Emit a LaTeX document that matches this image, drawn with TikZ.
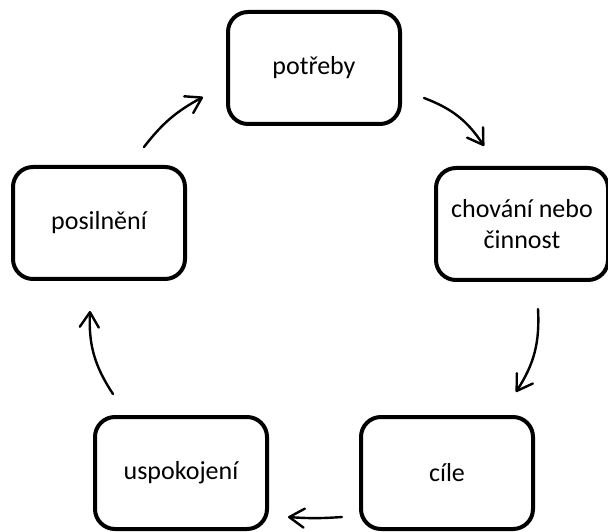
\documentclass[tikz,border=0pt]{standalone}
\usepackage{fontspec}
\setmainfont{Carlito}
\usetikzlibrary{arrows.meta}
\begin{document}
\begin{tikzpicture}[x=1pt,y=1pt,
  stagebox/.style={draw=black, line width=4pt, rounded corners=20pt,
    minimum width=172pt, minimum height=112pt, align=center,
    font=\fontsize{26}{31}\selectfont, inner sep=0pt},
  cyclearrow/.style={line width=2.4pt, line cap=round,
    -{Straight Barb[length=15pt,width=19pt,line cap=round,line join=round]}}]
\useasboundingbox (0,0) rectangle (608,531);
\node[stagebox] (potreby) at (314,463) {potřeby};
\node[stagebox] (chovani) at (522,307) {chování nebo\\činnost};
\node[stagebox] (cile) at (447,58) {cíle};
\node[stagebox] (uspokojeni) at (181,58) {uspokojení};
\node[stagebox] (posilneni) at (99,308) {posilnění};
\coordinate (a1s) at (424,433);
\coordinate (a1e) at (484,385);
\coordinate (a2s) at (538,222);
\coordinate (a2e) at (516,139);
\coordinate (a3s) at (342,14);
\coordinate (a3e) at (288,14);
\coordinate (a4s) at (113,137);
\coordinate (a4e) at (90,220);
\coordinate (a5s) at (144,384);
\coordinate (a5e) at (203,434);
\draw[cyclearrow] (a1s) to[bend left=18] (a1e);
\draw[cyclearrow] (a2s) to[bend left=18] (a2e);
\draw[cyclearrow] (a3s) to[bend left=4] (a3e);
\draw[cyclearrow] (a4s) to[bend left=18] (a4e);
\draw[cyclearrow] (a5s) to[bend left=12] (a5e);
\end{tikzpicture}
\end{document}
